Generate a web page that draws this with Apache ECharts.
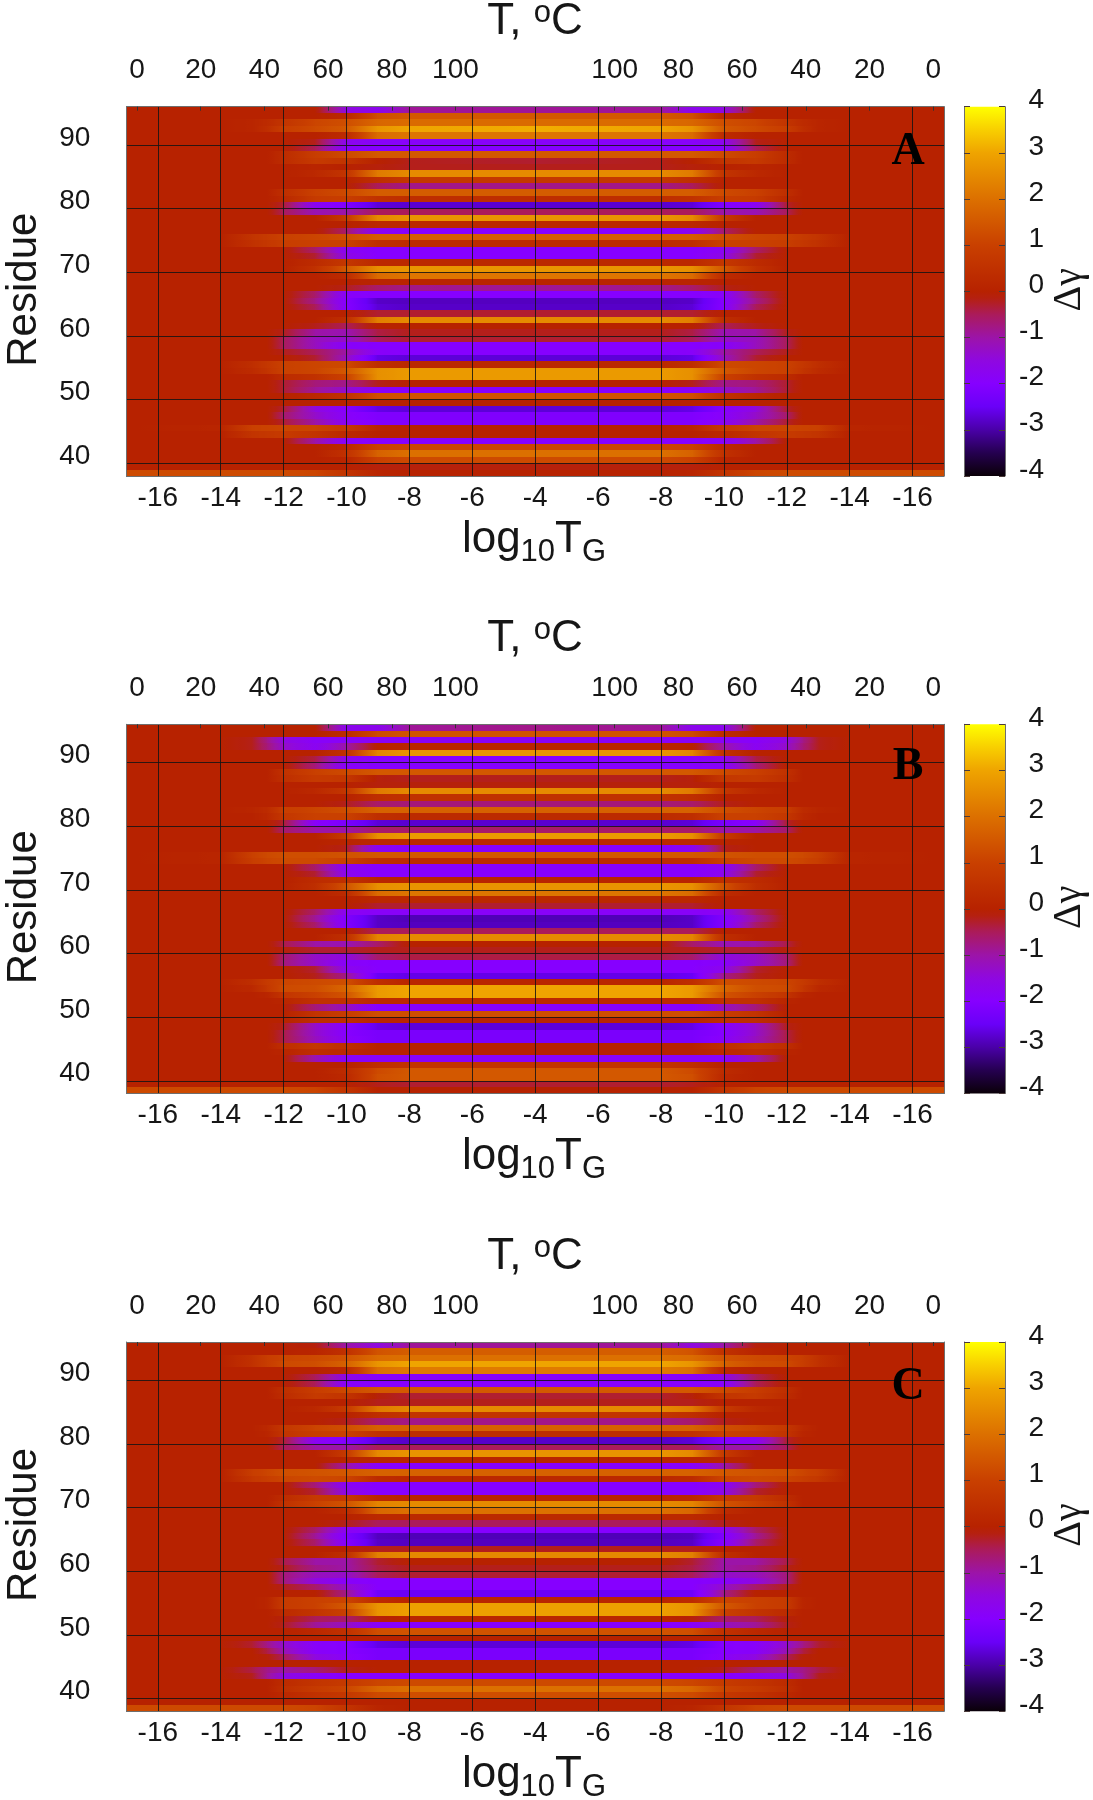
<!DOCTYPE html>
<html><head><meta charset="utf-8"><style>html,body{margin:0;padding:0;background:#fff}#c{width:1093px;height:1800px}</style>
<script src="https://cdn.jsdelivr.net/npm/echarts@6/dist/echarts.min.js"></script></head><body><div id="c"></div>
<script>
// Residues read top to bottom: each row covers [r, r+1].
const residues = [95,94,93,92,91,90,89,88,87,86,85,84,83,82,81,80,79,78,77,76,75,74,73,72,71,70,69,68,67,66,65,64,63,62,61,60,59,58,57,56,55,54,53,52,51,50,49,48,47,46,45,44,43,42,41,40,39,38];
// log10 TG positions at which each row of values was read (left half; right half is the plot's mirror).
const logTG = [-17,-14,-13,-12.5,-12,-11,-10,-9,-8,-4];
const panelA = [
[0,0,0,0,0,0,-1.5,-1.7,-.9,-.9],[0,0,0,0,0,0,.2,1.3,1.5,1.5],[0,0,.1,.3,.6,1.1,1.3,1.8,1.9,1.9],[0,0,.1,.4,.9,1.2,1.5,2.7,3,3.1],[0,0,0,0,0,0,.3,1.9,2.1,2.1],
[0,0,0,0,0,-.2,-1.7,-1.9,-1.9,-1.9],[0,0,0,0,0,-.5,-1.9,-2,-2,-2],[0,0,0,0,.3,.9,1.2,1.5,1.5,1.5],[0,0,0,0,.3,.8,.6,0,-.2,-.3],[0,0,0,0,0,.1,0,-.1,-.2,-.2],
[0,0,0,0,0,.2,.6,2.2,2.5,2.5],[0,0,0,0,0,0,0,.4,.7,.7],[0,0,0,0,0,0,0,-.5,-.8,-.8],[0,0,0,0,.4,1,1.2,1.6,1.6,1.6],[0,0,0,0,.2,.8,.9,.5,.4,.4],
[0,0,0,0,-.3,-1.8,-2.1,-2.7,-2.75,-2.75],[0,0,0,0,-.5,-1.1,-1,-.5,-.5,-.5],[0,0,0,0,0,0,.8,2.5,2.7,2.7],[0,0,0,0,0,0,0,.2,.2,.2],[0,0,0,0,0,0,-.6,-1.8,-2,-2],
[0,0,.6,.8,1,1.1,1.3,1.6,1.6,1.6],[0,0,.5,.7,.9,1,1,.4,.3,.3],[0,0,0,0,0,-.6,-1.8,-2,-2,-2],[0,0,0,0,0,-.3,-1.6,-2,-2,-2],[0,0,0,0,0,.3,.7,.2,.2,.2],
[0,0,0,0,0,.5,1.5,2.6,2.7,2.7],[0,0,0,0,0,0,.3,1.9,2.1,2.1],[0,0,0,0,0,0,0,.1,.1,.1],[0,0,0,0,0,0,-.2,-.6,-.8,-.9],[0,0,0,0,0,-.6,-1.9,-2,-2,-2],
[0,0,0,0,0,-.8,-2,-2.8,-2.85,-2.85],[0,0,0,0,0,-.5,-2,-2.7,-2.8,-2.8],[0,0,0,0,0,0,0,-.3,-.3,-.3],[0,0,0,0,0,0,.4,2.3,2.5,2.5],[0,0,0,0,0,-.2,-.5,0,0,0],
[0,0,0,0,-.2,-1,-1.1,-.4,-.2,-.2],[0,0,0,0,-.5,-1.2,-1.3,-.5,-.3,-.3],[0,0,0,0,-.5,-1.2,-1.9,-2,-2,-2],[0,0,0,0,-.2,-.5,-1,-1.9,-2,-2],[0,0,0,0,0,-.3,-1.2,-2.6,-2.7,-2.7],
[0,0,.4,.7,1,1.1,1.2,.4,.2,.2],[0,0,.3,.6,1,1.1,1.5,2.6,2.8,2.8],[0,0,0,0,.3,.5,1,2.6,2.8,2.8],[0,0,0,0,-.3,-.7,-.8,-.2,0,0],[0,0,0,0,-.3,-.9,-1.3,-1.9,-2,-2],
[0,0,0,0,0,.2,.5,1.3,1.4,1.4],[0,0,0,0,0,0,0,0,0,0],[0,0,0,0,-.3,-1.5,-2,-2.6,-2.7,-2.7],[0,0,0,0,-.6,-1.3,-1.9,-2.1,-2.1,-2.1],[0,0,0,0,-.3,-1,-1.8,-2.1,-2.1,-2.1],
[0,.1,1,1.05,1.1,1.1,.8,.1,0,0],[0,0,.6,.7,.8,.6,.2,0,0,0],[0,0,0,0,0,-1,-1.9,-2,-2,-2],[0,0,0,0,0,0,.2,1,1.1,1.1],[0,0,0,0,0,0,.5,1.7,2,2],
[0,0,0,0,0,0,.1,1,1.2,1.2],[0,0,0,0,0,0,0,-.1,-.1,-.1],[1.2,1.2,1.2,1.2,1.2,1.1,.6,.1,0,0]];
const panelB = [
[0,0,0,0,0,0,-1.7,-1.7,-.9,-.8],[0,0,0,0,0,0,.3,1.2,1.4,1.4],[0,0,-.2,-.8,-1.5,-1.9,-1.9,-1.9,-1.9,-1.9],[0,0,-.2,-.7,-1.3,-1.8,-1,0,.1,.1],[0,0,0,0,0,0,.5,2.4,2.7,2.7],
[0,0,0,0,0,-.4,-1.7,-2,-2,-2],[0,0,0,0,0,-.7,-1.9,-2,-2,-2],[0,0,0,0,.5,1,1.2,1.5,1.5,1.5],[0,0,0,0,.4,.8,.7,-.1,-.2,-.2],[0,0,0,0,0,0,0,-.1,-.1,-.1],
[0,0,0,0,0,.2,.7,2.2,2.5,2.5],[0,0,0,0,0,0,0,.4,.5,.5],[0,0,0,0,0,0,-.2,-.6,-.7,-.7],[0,0,.1,.3,.9,1.1,1.3,1.7,1.7,1.7],[0,0,0,.2,.7,1,1,.4,.3,.3],
[0,0,0,0,-.3,-1.9,-2.2,-2.7,-2.75,-2.75],[0,0,0,0,-.6,-1,-1,-.6,-.6,-.6],[0,0,0,0,0,0,.8,2.6,2.8,2.8],[0,0,0,0,0,0,.1,.2,.2,.2],[0,0,0,0,0,0,-.2,-1.8,-2,-2],
[0,.1,1,1.2,1.3,1.3,1.4,1.5,1.5,1.5],[0,.1,.9,1.1,1.2,1.2,1,.4,.3,.3],[0,0,0,0,0,-.6,-1.8,-2,-2,-2],[0,0,0,0,0,-.3,-1.7,-2,-2,-2],[0,0,0,0,0,.3,.5,.1,.1,.1],
[0,0,0,0,0,.4,1.4,2.6,2.7,2.7],[0,0,0,0,0,0,.3,1.9,2.1,2.1],[0,0,0,0,0,0,0,.2,.2,.2],[0,0,0,0,0,0,0,-.3,-.3,-.3],[0,0,0,0,0,-.6,-1.8,-1.9,-1.9,-1.9],
[0,0,0,0,0,-.9,-2.1,-2.8,-2.9,-2.9],[0,0,0,0,0,-.6,-2.1,-2.8,-2.85,-2.85],[0,0,0,0,0,0,0,-.5,-.5,-.5],[0,0,0,0,0,0,.4,2.4,2.5,2.5],[0,0,0,0,-.4,-1,-1.1,-.6,0,0],
[0,0,0,0,-.1,-.3,-.3,-.2,-.2,-.2],[0,0,0,0,-.6,-1.3,-1.5,-.6,-.4,-.4],[0,0,0,0,-.7,-1.3,-1.9,-2,-2,-2],[0,0,0,0,0,-.3,-1.7,-2,-2,-2],[0,0,0,0,0,-.2,-.8,-2.5,-2.6,-2.6],
[0,0,.4,.8,1.1,1.2,1.3,.4,.1,.1],[0,0,.2,.7,1.2,1.3,1.8,2.8,3,3],[0,0,0,.1,.6,1,1.4,2.8,3,3],[0,0,0,0,.1,.5,.5,.2,.2,.2],[0,0,0,0,0,-.7,-1.2,-2,-2,-2],
[0,0,0,0,0,.6,.9,1.3,1.3,1.3],[0,0,0,0,0,.4,.4,.1,.1,.1],[0,0,0,0,-.2,-1.3,-2,-2.6,-2.7,-2.7],[0,0,0,0,-.4,-1.3,-2,-2.2,-2.2,-2.2],[0,0,0,0,-.4,-1.2,-1.9,-2.2,-2.2,-2.2],
[0,0,0,0,.4,.7,.4,0,0,0],[0,0,0,0,.1,.4,.2,0,0,0],[0,0,0,0,0,-1.1,-1.9,-1.9,-1.9,-1.9],[0,0,0,0,0,0,0,.4,.6,.6],[0,0,0,0,0,0,.3,1.2,1.5,1.5],
[0,0,0,0,0,0,.2,1.3,1.5,1.5],[0,0,0,0,0,0,0,-.2,-.3,-.3],[1.2,1.2,1.2,1.2,1.2,1.1,.6,0,0,0]];
const panelC = [
[0,0,0,0,0,-.1,-1,-1.5,-.9,-.9],[0,0,0,0,0,.1,.5,1.4,1.6,1.6],[0,0,.5,.9,1.1,1.2,1.4,1.9,2,2],[0,0,.5,.9,1.2,1.3,1.7,2.7,3,3],[0,0,0,0,0,0,.2,2,2.2,2.2],
[0,0,0,0,0,-.5,-1.6,-1.9,-1.9,-1.9],[0,0,0,0,0,-.5,-1.9,-2,-2,-2],[0,0,0,0,.4,.9,1.2,1.5,1.5,1.5],[0,0,0,0,.3,.8,.6,-.1,-.3,-.3],[0,0,0,0,0,0,0,-.2,-.2,-.2],
[0,0,0,0,0,.2,.8,2.2,2.5,2.5],[0,0,0,0,0,0,0,.4,.6,.6],[0,0,0,0,0,0,-.2,-.6,-.8,-.8],[0,0,0,.2,.7,1.1,1.3,1.7,1.7,1.7],[0,0,0,.1,.6,.9,1,.5,.4,.4],
[0,0,0,0,-.3,-1.8,-2.1,-2.7,-2.8,-2.8],[0,0,0,0,-.5,-1,-1,-.5,-.5,-.5],[0,0,0,0,0,0,.8,2.5,2.7,2.7],[0,0,0,0,0,0,.1,.1,.1,.1],[0,0,0,0,0,0,-1,-1.9,-2,-2],
[0,0,.9,1.1,1.3,1.4,1.5,1.7,1.7,1.7],[0,0,.7,.9,1.1,1.2,1.1,.3,.2,.2],[0,0,0,0,0,-.7,-1.8,-2,-2,-2],[0,0,0,0,0,-.3,-1.6,-2,-2,-2],[0,0,0,0,.3,.8,.8,.2,.1,.1],
[0,0,0,0,.5,1,1.4,2.4,2.5,2.5],[0,0,0,0,0,0,.3,1.8,2,2],[0,0,0,0,0,0,0,.2,.2,.2],[0,0,0,0,0,0,-.2,-.5,-.5,-.5],[0,0,0,0,0,-.6,-1.8,-2,-2,-2],
[0,0,0,0,0,-.9,-2.1,-2.85,-2.9,-2.9],[0,0,0,0,0,-.6,-2,-2.8,-2.85,-2.85],[0,0,0,0,0,0,0,-.2,-.2,-.2],[0,0,0,0,0,0,.4,2.3,2.5,2.5],[0,0,0,0,-.4,-1,-1,-.3,0,0],
[0,0,0,0,-.2,-.8,-1,-.4,-.2,-.2],[0,0,0,0,-.7,-1.2,-1.3,-.5,-.3,-.3],[0,0,0,0,-.7,-1.5,-1.9,-2,-2,-2],[0,0,0,0,-.2,-.6,-1.3,-2,-2,-2],[0,0,0,0,0,0,-.8,-2.4,-2.5,-2.5],
[0,0,0,.1,.8,1,1.1,.3,.1,.1],[0,0,0,.1,.8,1,1.5,2.7,2.9,2.9],[0,0,0,0,.3,.6,1,2.7,2.9,2.9],[0,0,0,0,-.1,-.5,-.6,-.1,.1,.1],[0,0,0,0,-.2,-.9,-1.2,-1.9,-2,-2],
[0,0,0,0,0,.2,.5,1.3,1.4,1.4],[0,0,0,0,0,0,0,0,0,0],[0,0,-.3,-.8,-1.3,-1.9,-2,-2.6,-2.7,-2.7],[0,0,0,-.4,-1.1,-1.9,-2,-2.2,-2.2,-2.2],[0,0,0,-.1,-.5,-1.5,-1.9,-2.2,-2.2,-2.2],
[0,0,0,0,0,0,0,0,0,0],[0,0,-.4,-.8,-1,-.7,-.2,0,0,0],[0,0,-.2,-.9,-1.5,-1.9,-2,-2,-2,-2],[0,0,0,0,.3,.6,.8,1.1,1.2,1.2],[0,0,0,0,.4,.8,1.1,1.8,2,2],
[0,0,0,0,.2,.5,.7,1.2,1.3,1.3],[0,0,0,0,0,0,0,0,0,0],[1.2,1.2,1.2,1.2,1.2,1.1,.6,.1,0,0]];
// Colour scale
const scaleLevels = [-4,-3.5,-3,-2.5,-2,-1.5,-1,-.5,-.15,0,1,2,3,3.5,4];
const scaleColors = ['#0a0008','#250050','#4a00a8','#6a00f8','#8600ff','#8f08e0','#9c14a8','#ab1b5a','#b52010','#b72200','#c94000','#dc7000','#efa400','#f8cf00','#ffff00'];
// Axis ticks
const residueTicks = [40,50,60,70,80,90];
const logTicks = [-16,-14,-12,-10,-8,-6,-4,-2,0,2,4,6,8];     // folded axis: positions right of -4 read back down
const tempTicks = [0,20,40,60,80,100,150,170,190,210,230,250];   // mirrored temperatures on the top axis
const scaleTicks = [-4,-3,-2,-1,0,1,2,3,4];
const panelNames = ['A','B','C'];
const panelRows = [panelA,panelB,panelC];
const panelTops = [106.7,724.3,1342];
const letterDrop = [45,43,45];

const FONT='"Liberation Sans",Arial,sans-serif', INK='#161616', EDGE='#6e6e6e';
const PL=126.4, PW=817.6, PH=369.2, CL=964, CW=41;
function hex(c){return [1,3,5].map(i=>parseInt(c.substr(i,2),16));}
function colorOf(v){
  let i=0; while(i<scaleLevels.length-2 && v>scaleLevels[i+1]) i++;
  const t=Math.max(0,Math.min(1,(v-scaleLevels[i])/(scaleLevels[i+1]-scaleLevels[i])));
  const a=hex(scaleColors[i]),b=hex(scaleColors[i+1]);
  return 'rgb('+a.map((x,k)=>Math.round(x+(b[k]-x)*t)).join(',')+')';
}
function segments(table){
  const out=[];
  table.forEach((row,ri)=>{
    for(let k=0;k<logTG.length-1;k++){
      const a=logTG[k],b=logTG[k+1];
      out.push([a,b,residues[ri],row[k],row[k+1]]);
      out.push([-8-b,-8-a,residues[ri],row[k+1],row[k]]);
    }
  });
  return out;
}
function renderBand(p,api){
  const a=api.coord([api.value(0),api.value(2)+1]), b=api.coord([api.value(1),api.value(2)]);
  const v0=api.value(3),v1=api.value(4);
  const stops=[];for(let i=0;i<=8;i++)stops.push({offset:i/8,color:colorOf(v0+(v1-v0)*i/8)});
  const x0=Math.floor(a[0]),x1=Math.ceil(b[0]),y0=Math.round(a[1]),y1=Math.round(b[1]);
  return {type:'rect',shape:{x:x0,y:y0,width:x1-x0,height:y1-y0},style:{fill:new echarts.graphic.LinearGradient(0,0,1,0,stops)}};
}
function renderScale(p,api){
  const a=api.coord([0,4]),b=api.coord([1,-4]);
  const stops=scaleLevels.map((l,i)=>({offset:(4-l)/8,color:scaleColors[i]})).reverse();
  return {type:'rect',shape:{x:a[0],y:a[1],width:b[0]-a[0],height:b[1]-a[1]},style:{fill:new echarts.graphic.LinearGradient(0,0,0,1,stops)}};
}
const grid=[],xAxis=[],yAxis=[],series=[],graphic=[];
const lbl={color:INK,fontFamily:FONT,fontSize:28};
const edge={show:true,onZero:false,lineStyle:{color:EDGE,width:1}};
const split={show:true,lineStyle:{color:'#141414',width:1,opacity:.85}};
function title(text,x,y,size,extra){
  graphic.push(Object.assign({type:'text',x,y,z:20,style:Object.assign({text,fill:INK,font:size+'px '+FONT,textAlign:'center',textVerticalAlign:'middle'},extra&&extra.style)},extra&&extra.el));
}
panelRows.forEach((table,i)=>{
  const top=panelTops[i];
  const g=grid.length, xi=xAxis.length, yi=yAxis.length;
  grid.push({left:PL,top,width:PW,height:PH,outerBoundsMode:'none'});
  grid.push({left:CL,top,width:CW,height:PH,outerBoundsMode:'none'});
  xAxis.push({gridIndex:g,type:'value',position:'bottom',min:-17,max:9,z:5,axisLine:edge,
    axisTick:{show:false,customValues:logTicks},splitLine:split,
    axisLabel:Object.assign({},lbl,{margin:8,customValues:logTicks,hideOverlap:false,formatter:v=>String(-4-Math.abs(v+4))})});
  xAxis.push({gridIndex:g,type:'value',position:'top',min:-3.33,max:253.4,z:6,axisLine:edge,
    axisTick:{show:true,inside:true,length:4,lineStyle:{color:'#333'},customValues:tempTicks},splitLine:{show:false},
    axisLabel:Object.assign({},lbl,{margin:22,customValues:tempTicks,hideOverlap:false,formatter:v=>String(v<=100?v:250-v)})});
  xAxis.push({gridIndex:g+1,type:'value',min:0,max:1,axisLine:{show:false},axisTick:{show:false},axisLabel:{show:false},splitLine:{show:false}});
  yAxis.push({gridIndex:g,type:'value',position:'left',min:38,max:96,z:5,axisLine:edge,
    axisTick:{show:false,customValues:residueTicks},splitLine:split,
    axisLabel:Object.assign({},lbl,{margin:36,verticalAlign:'bottom',lineHeight:14,customValues:residueTicks,hideOverlap:false})});
  yAxis.push({gridIndex:g,type:'value',position:'right',min:38,max:96,z:5,axisLine:edge,axisTick:{show:false},axisLabel:{show:false},splitLine:{show:false}});
  yAxis.push({gridIndex:g+1,type:'value',position:'right',min:-4,max:4,z:5,axisLine:edge,
    axisTick:{show:true,inside:true,length:6,lineStyle:{color:'#4a3a3a'},customValues:scaleTicks},splitLine:{show:false},
    axisLabel:Object.assign({},lbl,{margin:39,align:'right',verticalAlign:'bottom',lineHeight:12,customValues:scaleTicks,hideOverlap:false})});
  yAxis.push({gridIndex:g+1,type:'value',position:'left',min:-4,max:4,z:5,axisLine:edge,
    axisTick:{show:true,inside:true,length:6,lineStyle:{color:'#4a3a3a'},customValues:scaleTicks},axisLabel:{show:false},splitLine:{show:false}});
  series.push({type:'custom',name:panelNames[i],coordinateSystem:'cartesian2d',xAxisIndex:xi,yAxisIndex:yi,z:1,silent:true,clip:true,animation:false,progressive:0,
    encode:{x:[0,1],y:2},renderItem:renderBand,data:segments(table)});
  series.push({type:'custom',coordinateSystem:'cartesian2d',xAxisIndex:xi+2,yAxisIndex:yi+2,z:1,silent:true,animation:false,
    encode:{x:0,y:1},renderItem:renderScale,data:[[0,-4]]});
  title('Residue',24,top+183,42,{el:{rotation:Math.PI/2}});
  title('{a|T, }{s|o}{a|C}',535,top-85,44,{style:{rich:{a:{font:'44px '+FONT,fill:INK,lineHeight:48},s:{font:'31px '+FONT,fill:INK,verticalAlign:'top',lineHeight:48}}}});
  title('{a|log}{s|10}{a|T}{s|G}',534,top+436,44,{style:{rich:{a:{font:'44px '+FONT,fill:INK,lineHeight:50,verticalAlign:'top'},s:{font:'31px '+FONT,fill:INK,lineHeight:50,verticalAlign:'bottom'}}}});
  title('Δγ',1069,top+183,40,{el:{rotation:Math.PI/2},style:{font:'40px "Liberation Serif",serif'}});
  title(panelNames[i],908,top+letterDrop[i],46,{style:{font:'bold 46px "Liberation Serif",serif',fill:'#000'}});
});
const chart=echarts.init(document.getElementById('c'),null,{renderer:'canvas'});
chart.setOption({animation:false,backgroundColor:'#fff',grid,xAxis,yAxis,series,graphic});
</script></body></html>
